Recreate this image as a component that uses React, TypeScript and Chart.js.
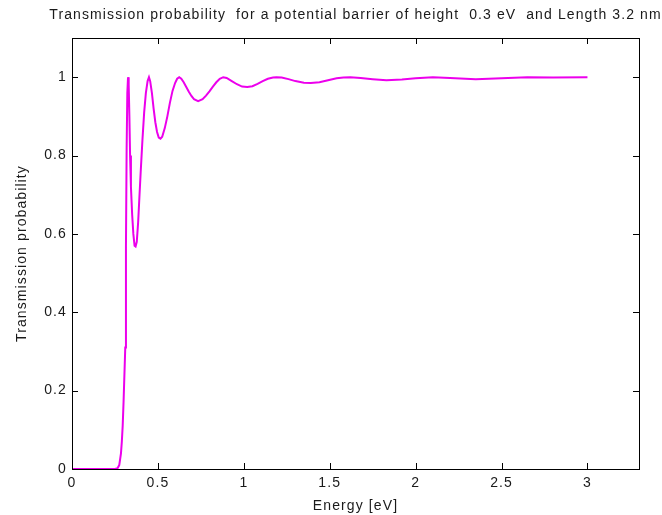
import React, { useEffect, useRef } from 'react';
import { Chart, registerables } from 'chart.js';

Chart.register(...registerables);

const TITLE = 'Transmission probability  for a potential barrier of height  0.3 eV  and Length 3.2 nm';
const X_LABEL = 'Energy [eV]';
const Y_LABEL = 'Transmission probability';
const X_MIN = 0;
const X_MAX = 3.3;
const Y_MIN = 0;
const Y_MAX = 1.1;
const xTicks = [0, 0.5, 1, 1.5, 2, 2.5, 3];
const yTicks = [0, 0.2, 0.4, 0.6, 0.8, 1];
const xTickLabels = ['0', '0.5', '1', '1.5', '2', '2.5', '3'];
const yTickLabels = ['0', '0.2', '0.4', '0.6', '0.8', '1'];

const energy = [
  0, 0.25, 0.265, 0.275, 0.285, 0.29, 0.295, 0.3, 0.305, 0.31, 0.314, 0.318, 0.322, 0.326, 0.33,
  0.334, 0.338, 0.343, 0.35, 0.357, 0.364, 0.37, 0.377, 0.385, 0.393, 0.4, 0.41, 0.42, 0.43, 0.44,
  0.448, 0.455, 0.465, 0.475, 0.485, 0.495, 0.505, 0.515, 0.525, 0.54, 0.555, 0.57, 0.585, 0.6,
  0.612, 0.624, 0.636, 0.65, 0.665, 0.68, 0.695, 0.71, 0.734, 0.76, 0.78, 0.8, 0.82, 0.84, 0.86,
  0.88, 0.9, 0.93, 0.96, 0.99, 1.02, 1.05, 1.08, 1.11, 1.14, 1.17, 1.19, 1.22, 1.26, 1.3, 1.35,
  1.39, 1.44, 1.49, 1.54, 1.58, 1.62, 1.68, 1.75, 1.83, 1.92, 2.0, 2.1, 2.2, 2.35, 2.5, 2.65, 2.8, 3.0,
];

const transmission = [
  0, 0, 0.002, 0.01, 0.04, 0.07, 0.11, 0.17, 0.24, 0.31, 0.57, 0.82, 0.96, 1.0, 0.98,
  0.9, 0.8, 0.72, 0.65, 0.6, 0.57, 0.568, 0.58, 0.63, 0.7, 0.76, 0.84, 0.91, 0.96, 0.99,
  1.0, 0.99, 0.96, 0.92, 0.885, 0.86, 0.846, 0.843, 0.848, 0.87, 0.9, 0.935, 0.965, 0.985,
  0.996, 1.0, 0.996, 0.987, 0.975, 0.963, 0.952, 0.944, 0.939, 0.944, 0.953, 0.964, 0.976, 0.987, 0.996,
  1.0, 0.998, 0.99, 0.982, 0.976, 0.975, 0.977, 0.983, 0.99, 0.996, 0.999, 1.0, 0.999, 0.995, 0.99, 0.986,
  0.985, 0.987, 0.992, 0.997, 0.999, 1.0, 0.998, 0.995, 0.992, 0.994, 0.997, 1.0, 0.998, 0.995, 0.997, 1.0, 0.999, 1.0,
];

const FONT = "'Liberation Sans', Arial, sans-serif";
const FONT_SIZE = 14;
const LINE_COLOR = 'rgb(236, 0, 236)';
const TEXT_COLOR = '#1a1a1a';
const TICK_LEN = 6;
const LETTER_SPACING = '1.1px';

const boxPlugin = {
  id: 'matlabBox',
  beforeDraw(chart: any) {
    (chart.ctx as any).letterSpacing = LETTER_SPACING;
  },
  afterDraw(chart: any) {
    const { ctx, chartArea, scales } = chart;
    const { left, right, top, bottom } = chartArea;
    ctx.save();
    ctx.strokeStyle = '#000';
    ctx.lineWidth = 1;
    ctx.strokeRect(Math.round(left) + 0.5, Math.round(top) + 0.5, Math.round(right - left), Math.round(bottom - top));
    ctx.beginPath();
    xTicks.forEach((v) => {
      const px = Math.round(scales.x.getPixelForValue(v)) + 0.5;
      ctx.moveTo(px, bottom);
      ctx.lineTo(px, bottom - TICK_LEN);
      ctx.moveTo(px, top);
      ctx.lineTo(px, top + TICK_LEN);
    });
    yTicks.forEach((v) => {
      const py = Math.round(scales.y.getPixelForValue(v)) + 0.5;
      ctx.moveTo(left, py);
      ctx.lineTo(left + TICK_LEN, py);
      ctx.moveTo(right, py);
      ctx.lineTo(right - TICK_LEN, py);
    });
    ctx.stroke();
    // title centred over the plot area
    ctx.letterSpacing = LETTER_SPACING;
    ctx.fillStyle = TEXT_COLOR;
    ctx.font = `${FONT_SIZE}px ${FONT}`;
    ctx.textAlign = 'center';
    ctx.textBaseline = 'middle';
    ctx.fillText(TITLE, (left + right) / 2, 15);
    ctx.restore();
  },
};

export default function App() {
  const ref = useRef<HTMLCanvasElement | null>(null);

  useEffect(() => {
    if (!ref.current) return;
    const points = energy.map((e, i) => ({ x: e, y: transmission[i] }));
    const chart = new Chart(ref.current, {
      type: 'line',
      data: {
        datasets: [
          {
            data: points,
            borderColor: LINE_COLOR,
            backgroundColor: LINE_COLOR,
            borderWidth: 2,
            pointRadius: 0,
            tension: 0,
            fill: false,
          },
        ],
      },
      options: {
        animation: false,
        responsive: true,
        maintainAspectRatio: false,
        layout: { padding: { top: 38, right: 23, left: 0, bottom: 0 } },
        plugins: { legend: { display: false }, tooltip: { enabled: false }, title: { display: false } },
        scales: {
          x: {
            type: 'linear',
            min: X_MIN,
            max: X_MAX,
            grid: { display: false, drawTicks: false },
            border: { display: false },
            afterBuildTicks: (s: any) => {
              s.ticks = xTicks.map((v) => ({ value: v }));
            },
            afterFit: (s: any) => {
              s.height = 46;
            },
            ticks: {
              padding: 6,
              color: TEXT_COLOR,
              font: { family: FONT, size: FONT_SIZE },
              maxRotation: 0,
              autoSkip: false,
              callback: (v: any) => xTickLabels[xTicks.indexOf(Number(v))] ?? '',
            },
            title: {
              display: true,
              text: X_LABEL,
              color: TEXT_COLOR,
              font: { family: FONT, size: FONT_SIZE },
              padding: { top: 0, bottom: 0 },
            },
          },
          y: {
            type: 'linear',
            min: Y_MIN,
            max: Y_MAX,
            grid: { display: false, drawTicks: false },
            border: { display: false },
            afterBuildTicks: (s: any) => {
              s.ticks = yTicks.map((v) => ({ value: v }));
            },
            afterFit: (s: any) => {
              s.width = 72;
            },
            ticks: {
              padding: 5,
              color: TEXT_COLOR,
              font: { family: FONT, size: FONT_SIZE },
              autoSkip: false,
              callback: (v: any) => {
                const i = yTicks.findIndex((t) => Math.abs(t - Number(v)) < 1e-9);
                return i >= 0 ? yTickLabels[i] : '';
              },
            },
            title: {
              display: true,
              text: Y_LABEL,
              color: TEXT_COLOR,
              font: { family: FONT, size: FONT_SIZE },
              padding: { top: 14, bottom: 0 },
            },
          },
        },
      },
      plugins: [boxPlugin],
    } as any);
    return () => chart.destroy();
  }, []);

  return (
    <div style={{ position: 'absolute', left: 0, top: 0, width: 662, height: 515, background: '#fff' }}>
      <canvas ref={ref} />
    </div>
  );
}
